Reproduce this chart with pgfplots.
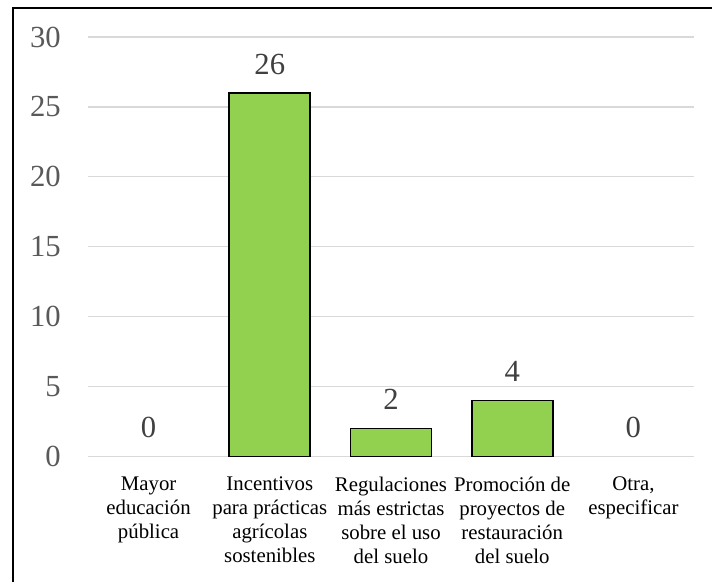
\documentclass[border=0pt]{standalone}
\usepackage{fontspec}
\setmainfont{Liberation Serif}
\usepackage{pgfplots}
\pgfplotsset{compat=1.18}

\definecolor{bargreen}{HTML}{92D050}
\definecolor{gridgray}{HTML}{D9D9D9}
\definecolor{tickgray}{HTML}{595959}
\definecolor{labelgray}{HTML}{404040}

\begin{document}
\begin{tikzpicture}
\begin{axis}[
  at={(66pt,93.4pt)}, anchor=south west,
  scale only axis,
  width=454.5pt, height=314.6pt,
  ymin=0, ymax=30,
  xmin=-0.5, xmax=4.5,
  ytick={0,5,...,30},
  xtick={0,1,2,3,4},
  xticklabels={
    {Mayor\\educación\\pública},
    {Incentivos\\para prácticas\\agrícolas\\sostenibles},
    {Regulaciones\\más estrictas\\sobre el uso\\del suelo},
    {Promoción de\\proyectos de\\restauración\\del suelo},
    {Otra,\\especificar}},
  ymajorgrids,
  major grid style={gridgray, line width=1pt},
  axis line style={draw=none},
  tick style={draw=none},
  major tick length=0pt,
  /pgf/number format/assume math mode=true,
  yticklabel style={font=\fontsize{23}{27}\selectfont, text=tickgray,
    inner sep=0pt, anchor=east, xshift=-20.25pt},
  xticklabel style={font=\fontsize{15.6}{18}\selectfont, text=black,
    align=center, inner sep=0pt, anchor=north, yshift=-15pt},
  ybar, bar width=0.668, bar shift=0pt,
  nodes near coords,
  every node near coord/.append style={font=\fontsize{23}{27}\selectfont,
    text=labelgray, inner sep=0pt, anchor=base, yshift=14pt},
  clip=false,
]
% answers with at least one vote
\addplot[fill=bargreen, draw=black, line width=1.4pt]
  coordinates {(1,26) (2,2) (3,4)};
% answers with no votes: label only
\addplot[draw=none, fill=none]
  coordinates {(0,0) (4,0)};
\end{axis}
% frame around the chart
\draw[line width=1.5pt, line cap=rect] (9.4pt,0pt) -- (9.4pt,430.1pt) -- (534pt,430.1pt);
\pgfresetboundingbox
\path[use as bounding box] (0,0) rectangle (534pt,435.75pt);
\end{tikzpicture}
\end{document}
